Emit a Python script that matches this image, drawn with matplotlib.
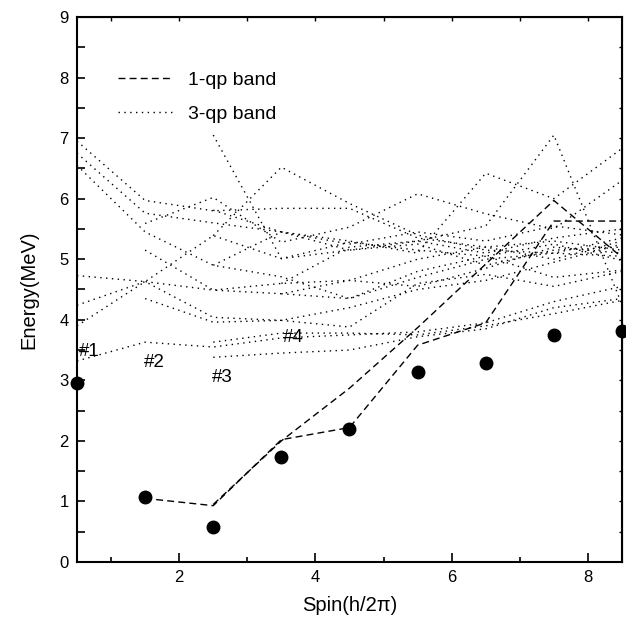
import numpy as np
import matplotlib
matplotlib.use("Agg")
import matplotlib.pyplot as plt

plt.rcParams['font.family'] = ['Liberation Sans', 'DejaVu Sans']

nan = np.nan
spins = [0.5, 1.5, 2.5, 3.5, 4.5, 5.5, 6.5, 7.5, 8.5]

# experimental levels
exp_energy = [2.95, 1.07, 0.57, 1.73, 2.20, 3.13, 3.28, 3.75, 3.82]

# 1-qp bands
qp1_a = [nan, 1.05, 0.93, 2.02, 2.22, 3.58, 3.95, 5.63, 5.63]
qp1_b = [nan, nan, 0.95, 2.00, 2.87, 3.87, 4.92, 5.97, 5.03]

# 3-qp bands
qp3_01 = [6.95, 5.97, 5.80, 5.84, 5.84, 5.35, 5.20, 5.30, 5.15]
qp3_02 = [6.75, 5.76, 5.60, 5.45, 5.25, 5.45, 5.30, 5.55, 5.40]
qp3_03 = [6.55, 5.45, 4.90, 4.71, 4.35, 4.70, 5.00, 5.10, 5.05]
qp3_04 = [4.73, 4.63, 5.39, 5.01, 5.15, 5.30, 5.10, 5.35, 5.50]
qp3_05 = [4.24, 4.63, 4.04, 3.99, 4.20, 4.50, 4.65, 4.95, 5.25]
qp3_06 = [3.90, 4.63, 4.49, 4.60, 4.65, 4.55, 4.85, 5.20, 5.10]
qp3_07 = [3.32, 3.63, 3.55, 3.70, 3.75, 3.80, 3.95, 4.30, 4.55]
qp3_08 = [nan, 4.35, 3.96, 3.99, 3.88, 4.60, 4.75, 4.55, 4.80]
qp3_09 = [nan, nan, 3.38, 3.45, 3.50, 3.72, 3.85, 4.20, 4.35]
qp3_10 = [nan, 5.15, 4.49, 4.43, 4.65, 5.00, 5.20, 5.00, 5.30]
qp3_11 = [nan, nan, 7.05, 5.01, 5.28, 5.15, 5.05, 5.25, 4.98]
qp3_12 = [nan, nan, 5.39, 6.52, 5.92, 5.40, 5.15, 5.10, 5.35]
qp3_13 = [nan, 5.59, 6.02, 5.28, 5.53, 6.08, 5.75, 5.50, 6.30]
qp3_14 = [nan, nan, 4.90, 5.45, 5.30, 5.10, 6.42, 6.00, 6.83]
qp3_15 = [nan, nan, nan, 4.60, 5.20, 5.30, 5.55, 7.05, 4.25]
qp3_16 = [nan, nan, 3.63, 3.78, 3.78, 3.75, 3.90, 4.10, 4.32]
qp3_17 = [nan, nan, 5.81, 5.45, 5.15, 5.25, 4.90, 5.15, 5.20]
qp3_18 = [nan, nan, nan, 4.43, 4.35, 4.80, 5.05, 4.70, 4.82]
qp3_bands = [qp3_01, qp3_02, qp3_03, qp3_04, qp3_05, qp3_06, qp3_07, qp3_08,
             qp3_09, qp3_10, qp3_11, qp3_12, qp3_13, qp3_14, qp3_15, qp3_16,
             qp3_17, qp3_18]

band_labels = ['#1', '#2', '#3', '#4']
band_label_pos = [(0.53, 3.47), (1.48, 3.3), (2.48, 3.05), (3.53, 3.71)]

fig = plt.figure(figsize=(6.26, 6.32), dpi=100)
ax = fig.add_axes([0.123, 0.1108, 0.8706, 0.8623])

dash_style = (0, (5, 3))
dot_style = (0, (1, 3.2))

for i, b in enumerate([qp1_a, qp1_b]):
    ax.plot(spins, b, color='black', lw=1.0, linestyle=dash_style,
            label='1-qp band' if i == 0 else None)
for i, b in enumerate(qp3_bands):
    ax.plot(spins, b, color='black', lw=1.0, linestyle=dot_style,
            label='3-qp band' if i == 0 else None)

ax.plot(spins, exp_energy, 'o', color='black', markersize=9, clip_on=False, zorder=5)

for t, (x, y) in zip(band_labels, band_label_pos):
    ax.text(x, y, t, fontsize=13.5, ha='left', va='center')

ax.set_xlim(0.5, 8.5)
ax.set_ylim(0, 9)
ax.set_xticks([2, 4, 6, 8])
ax.set_xticks([1, 3, 5, 7], minor=True)
ax.set_yticks(range(10))
ax.set_yticks(np.arange(0.5, 9, 1.0), minor=True)
ax.tick_params(axis='both', which='both', direction='in', labelsize=12, width=1.2)
ax.tick_params(axis='x', which='major', length=6.5, pad=6)
ax.tick_params(axis='x', which='minor', length=3.5)
ax.tick_params(axis='y', which='both', length=6, pad=6)
for s in ax.spines.values():
    s.set_linewidth(1.5)

top = ax.secondary_xaxis('top')
top.set_xticks([1, 2, 3, 4, 5, 6, 7, 8])
top.tick_params(direction='in', length=3, labeltop=False, width=1)
right = ax.secondary_yaxis('right')
right.set_yticks(np.arange(0.5, 9, 0.5))
right.tick_params(direction='in', length=2.5, labelright=False, width=1)

ax.set_xlabel('Spin(h/2\u03c0)', fontsize=14.5, labelpad=8)
ax.set_ylabel('Energy(MeV)', fontsize=14.5, labelpad=15)

leg = ax.legend(loc='upper left', bbox_to_anchor=(0.075, 0.901), frameon=False,
                fontsize=14, handlelength=2.8, handletextpad=0.8,
                labelspacing=0.85, borderpad=0, borderaxespad=0)

fig.savefig('out.png', dpi=100)
